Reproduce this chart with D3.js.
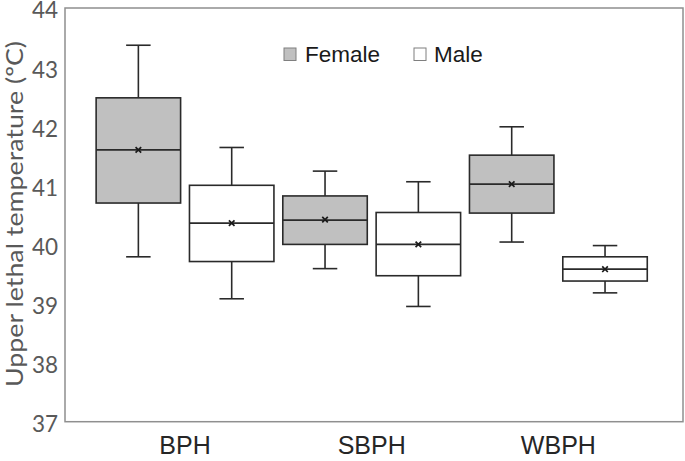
<!DOCTYPE html>
<html><head><meta charset="utf-8">
<script src="https://cdn.jsdelivr.net/npm/d3@7"></script>
<style>body{margin:0;background:#fff}svg{display:block}</style>
</head><body>
<svg id="chart" width="685" height="461"></svg>
<script>
const species = ["BPH", "SBPH", "WBPH"];
const sexes = ["Female", "Male"];
const yTicks = [37, 38, 39, 40, 41, 42, 43, 44];
// per box: [species, sex]
const boxKeys = [["BPH","Female"],["BPH","Male"],["SBPH","Female"],["SBPH","Male"],["WBPH","Female"],["WBPH","Male"]];
const whiskerLow  = [39.79, 39.08, 39.59, 38.95, 40.04, 39.18];
const q1          = [40.70, 39.71, 40.00, 39.47, 40.53, 39.38];
const median      = [41.60, 40.36, 40.41, 40.00, 41.02, 39.58];
const q3          = [42.48, 41.00, 40.82, 40.54, 41.51, 39.79];
const whiskerHigh = [43.37, 41.64, 41.24, 41.06, 41.99, 39.98];
const mean        = [41.60, 40.36, 40.42, 40.00, 41.02, 39.58];
const fills = {Female: "#c0c0c0", Male: "#ffffff"};

const svg = d3.select("#chart");
const frame = {left: 65, right: 683, top: 8, bottom: 421.7};
const y = d3.scaleLinear().domain([37, 44]).range([frame.bottom, frame.top]);
const x = d3.scaleBand().domain(species).range([91.7, 651.7]).padding(0);
const xs = d3.scaleBand().domain(sexes).range([0, x.bandwidth()]).padding(0);
const boxW = xs.bandwidth() * 0.905;
const capW = boxW * 0.29;

// frame
svg.append("rect").attr("x", frame.left).attr("y", frame.top)
  .attr("width", frame.right - frame.left).attr("height", frame.bottom - frame.top)
  .attr("fill", "none").attr("stroke", "#8f8f8f").attr("stroke-width", 1.5);

// y axis
const yAxis = svg.append("g").attr("transform", `translate(${frame.left},0)`)
  .call(d3.axisLeft(y).tickValues(yTicks).tickSize(0).tickPadding(7).tickFormat(d3.format("d")));
yAxis.select(".domain").remove();
yAxis.selectAll("text").attr("font-family", "Lato, 'Open Sans', sans-serif")
  .attr("font-size", 22.5).attr("fill", "#595959").attr("dy", "0.44em");

// x labels
const xAxis = svg.append("g").attr("transform", `translate(0,${frame.bottom})`)
  .call(d3.axisBottom(x).tickSize(0).tickPadding(15));
xAxis.select(".domain").remove();
xAxis.selectAll("text").attr("font-family", "'Liberation Sans', Arial, sans-serif")
  .attr("font-size", 25).attr("fill", "#262626");

// y title
svg.append("text").attr("transform", "translate(23,214) rotate(-90)")
  .attr("text-anchor", "middle").attr("font-family", "Lato, 'Open Sans', sans-serif")
  .attr("font-size", 24).attr("fill", "#595959")
  .attr("textLength", 346).attr("lengthAdjust", "spacingAndGlyphs")
  .text("Upper lethal temperature (ºC)");

const stroke = "#2a2a2a";
boxKeys.forEach((k, i) => {
  const cx = x(k[0]) + xs(k[1]) + xs.bandwidth() / 2;
  const g = svg.append("g");
  // whiskers
  g.append("line").attr("x1", cx).attr("x2", cx).attr("y1", y(whiskerHigh[i])).attr("y2", y(q3[i]))
    .attr("stroke", stroke).attr("stroke-width", 1.6);
  g.append("line").attr("x1", cx).attr("x2", cx).attr("y1", y(q1[i])).attr("y2", y(whiskerLow[i]))
    .attr("stroke", stroke).attr("stroke-width", 1.6);
  [whiskerHigh[i], whiskerLow[i]].forEach(v => {
    g.append("line").attr("x1", cx - capW / 2).attr("x2", cx + capW / 2).attr("y1", y(v)).attr("y2", y(v))
      .attr("stroke", stroke).attr("stroke-width", 1.6);
  });
  // box
  g.append("rect").attr("x", cx - boxW / 2).attr("y", y(q3[i]))
    .attr("width", boxW).attr("height", y(q1[i]) - y(q3[i]))
    .attr("fill", fills[k[1]]).attr("stroke", stroke).attr("stroke-width", 1.6);
  // median
  g.append("line").attr("x1", cx - boxW / 2).attr("x2", cx + boxW / 2)
    .attr("y1", y(median[i])).attr("y2", y(median[i])).attr("stroke", stroke).attr("stroke-width", 1.7);
  // mean marker
  const my = y(mean[i]), s = 2.8;
  g.append("path").attr("d", `M${cx - s},${my - s}L${cx + s},${my + s}M${cx - s},${my + s}L${cx + s},${my - s}`)
    .attr("stroke", "#1a1a1a").attr("stroke-width", 1.7);
});

// legend
const legend = [{label: "Female", sx: 284, tx: 305}, {label: "Male", sx: 414, tx: 434}];
legend.forEach(l => {
  svg.append("rect").attr("x", l.sx).attr("y", 48).attr("width", 12).attr("height", 12.5)
    .attr("fill", fills[l.label]).attr("stroke", "#7f7f7f").attr("stroke-width", 1);
  svg.append("text").attr("x", l.tx).attr("y", 61.5).attr("font-family", "'Liberation Sans', Arial, sans-serif")
    .attr("font-size", 22.5).attr("fill", "#1a1a1a").text(l.label);
});
</script>
</body></html>
